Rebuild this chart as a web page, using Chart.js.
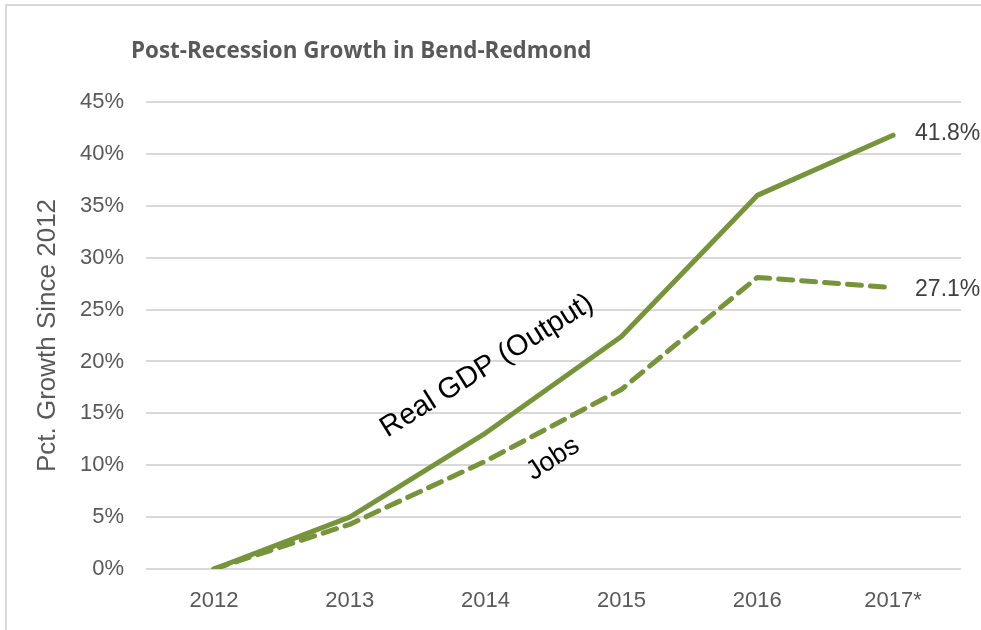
<!DOCTYPE html>
<html>
<head>
<meta charset="utf-8">
<script src="https://cdn.jsdelivr.net/npm/chart.js@4.4.0/dist/chart.umd.min.js"></script>
<style>
  html, body { margin: 0; padding: 0; background: #fff; }
  #wrap { width: 981px; height: 630px; position: relative; }
</style>
</head>
<body>
<div id="wrap"><canvas id="growthChart" width="981" height="630"></canvas></div>
<script>
const years = ['2012', '2013', '2014', '2015', '2016', '2017*'];
const gdpGrowth = [0, 5.0, 13.1, 22.4, 36.0, 41.8];
const jobsGrowth = [0, 4.3, 10.4, 17.3, 28.1, 27.1];
const yTicks = [0, 5, 10, 15, 20, 25, 30, 35, 40, 45];

const olive = '#77933C';
const greyText = '#595959';
const sans = '"Liberation Sans", Arial, sans-serif';

// frame, title, in-chart labels
const annotations = {
  id: 'annotations',
  beforeDraw(chart) {
    const ctx = chart.ctx;
    ctx.save();
    ctx.strokeStyle = '#d9d9d9';
    ctx.lineWidth = 2;
    ctx.beginPath();
    ctx.moveTo(6, 632);
    ctx.lineTo(6, 5);
    ctx.lineTo(985, 5);
    ctx.stroke();
    ctx.restore();
  },
  afterDatasetsDraw(chart) {
    const ctx = chart.ctx;
    const x = chart.scales.x;
    const y = chart.scales.y;
    ctx.save();

    // title, sized to the same width as the original
    const titleText = 'Post-Recession Growth in Bend-Redmond';
    let size = 22;
    ctx.font = 'bold ' + size + 'px "Liberation Sans Narrow", "Open Sans", sans-serif';
    size = size * 461 / ctx.measureText(titleText).width;
    ctx.font = 'bold ' + size.toFixed(1) + 'px "Liberation Sans Narrow", "Open Sans", sans-serif';
    ctx.fillStyle = greyText;
    ctx.textBaseline = 'middle';
    ctx.textAlign = 'left';
    ctx.fillText(titleText, 131, 52);

    // end values
    const last = years.length - 1;
    ctx.fillStyle = '#404040';
    ctx.font = '23px ' + sans;
    ctx.fillText(gdpGrowth[last].toFixed(1) + '%', x.getPixelForValue(last) + 22, y.getPixelForValue(gdpGrowth[last]) - 2);
    ctx.fillText(jobsGrowth[last].toFixed(1) + '%', x.getPixelForValue(last) + 22, y.getPixelForValue(jobsGrowth[last]) + 2);

    // series labels along the lines
    ctx.fillStyle = '#000';
    ctx.textAlign = 'center';
    ctx.font = '29px ' + sans;
    ctx.save();
    ctx.translate(487, 366);
    ctx.rotate(-32 * Math.PI / 180);
    ctx.fillText('Real GDP (Output)', 0, 0);
    ctx.restore();

    ctx.font = '27px ' + sans;
    ctx.save();
    ctx.translate(553, 459);
    ctx.rotate(-33 * Math.PI / 180);
    ctx.fillText('Jobs', 0, 0);
    ctx.restore();

    ctx.restore();
  }
};

new Chart(document.getElementById('growthChart'), {
  type: 'line',
  data: {
    labels: years,
    datasets: [
      {
        label: 'Real GDP (Output)',
        data: gdpGrowth,
        borderColor: olive,
        borderWidth: 5,
        pointRadius: 0,
        tension: 0,
        borderCapStyle: 'round',
        borderJoinStyle: 'round'
      },
      {
        label: 'Jobs',
        data: jobsGrowth,
        borderColor: olive,
        borderWidth: 5,
        borderDash: [14, 9],
        pointRadius: 0,
        tension: 0,
        borderCapStyle: 'round',
        borderJoinStyle: 'round'
      }
    ]
  },
  options: {
    responsive: false,
    animation: false,
    layout: { padding: { left: 30, right: 20, top: 102, bottom: 4 } },
    plugins: {
      legend: { display: false },
      tooltip: { enabled: false },
      title: { display: false }
    },
    scales: {
      x: {
        offset: true,
        grid: { display: false, drawTicks: false },
        border: { display: false },
        ticks: {
          color: greyText,
          padding: 19,
          font: { family: sans, size: 22 }
        },
        afterFit(scale) { scale.height = 57; }
      },
      y: {
        min: 0,
        max: 45,
        afterBuildTicks(scale) { scale.ticks = yTicks.map(v => ({ value: v })); },
        grid: { color: '#d9d9d9', lineWidth: 2, drawTicks: false },
        border: { display: false },
        ticks: {
          color: greyText,
          padding: 22,
          font: { family: sans, size: 22 },
          callback: v => v + '%'
        },
        title: {
          display: true,
          text: 'Pct. Growth Since 2012',
          color: greyText,
          padding: { top: 2, bottom: 0 },
          font: { family: sans, size: 26, weight: 'normal' }
        },
        afterFit(scale) { scale.width = 116; }
      }
    }
  },
  plugins: [annotations]
});
</script>
</body>
</html>
